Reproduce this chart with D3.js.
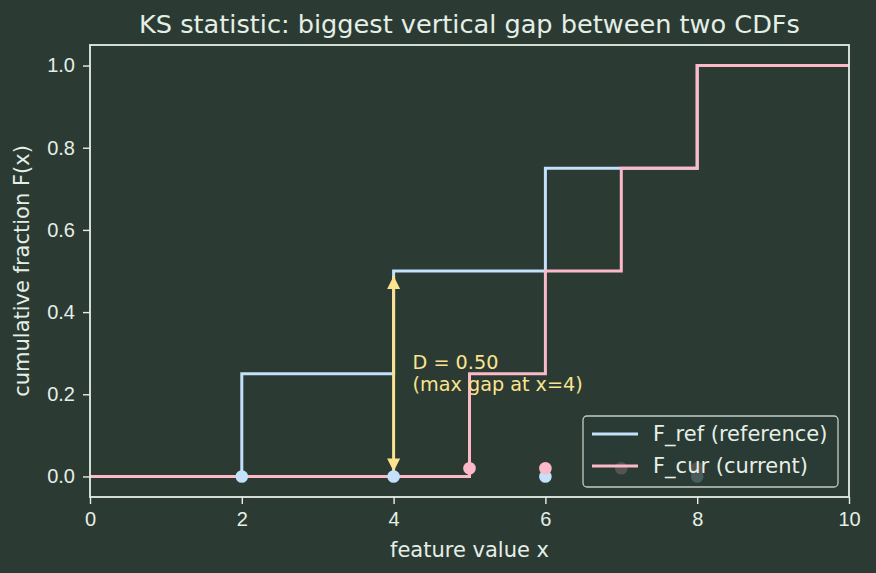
<!DOCTYPE html>
<html>
<head>
<meta charset="utf-8">
<script src="https://cdn.jsdelivr.net/npm/d3@7"></script>
<style>
  html, body { margin: 0; padding: 0; background: #2b3b34; }
  svg { display: block; font-family: "DejaVu Sans", sans-serif; }
</style>
</head>
<body>
<div id="chart"></div>
<script>
// sample values for the two distributions
const refSamples = [2, 4, 6, 8];
const curSamples = [5, 6, 7, 8];
// step points of each empirical CDF: [x, F(x)]
const refCdf = [[0, 0], [2, 0.25], [4, 0.5], [6, 0.75], [8, 1.0], [10, 1.0]];
const curCdf = [[0, 0], [5, 0.25], [6, 0.5], [7, 0.75], [8, 1.0], [10, 1.0]];
const xTicks = [0, 2, 4, 6, 8, 10];
const yTicks = [0, 0.2, 0.4, 0.6, 0.8, 1.0];
const gapX = 4, gapLow = 0, gapHigh = 0.5;
const gapLabel = ["D = 0.50", "(max gap at x=4)"];
const seriesNames = ["F_ref (reference)", "F_cur (current)"];

const W = 876, H = 573;
const bg = "#2b3b34", fg = "#e6efe6";
const blue = "#c4e1fb", pink = "#fbb9c9", gold = "#fbe38f";
const m = {left: 90, right: 27, top: 45, bottom: 76};

const svg = d3.select("#chart").append("svg")
  .attr("width", W).attr("height", H);

svg.append("rect").attr("width", W).attr("height", H).attr("fill", bg);

const x = d3.scaleLinear().domain([0, 10]).range([m.left, W - m.right]);
const y = d3.scaleLinear().domain([-0.05, 1.05]).range([H - m.bottom, m.top]);

// axes
const xAxis = svg.append("g")
  .attr("transform", `translate(0,${H - m.bottom})`)
  .call(d3.axisBottom(x).tickValues(xTicks).tickFormat(d3.format("d")).tickSize(7).tickPadding(8));
const yAxis = svg.append("g")
  .attr("transform", `translate(${m.left},0)`)
  .call(d3.axisLeft(y).tickValues(yTicks).tickFormat(d3.format(".1f")).tickSize(7).tickPadding(8));
[xAxis, yAxis].forEach(a => {
  a.select(".domain").remove();
  a.selectAll("line").attr("stroke", fg).attr("stroke-width", 1.4);
  a.selectAll("text").attr("fill", fg).style("font-size", "20px");
});

const line = d3.line()
  .x(d => x(d[0]))
  .y(d => y(d[1]))
  .curve(d3.curveStepAfter);

svg.append("path").datum(refCdf)
  .attr("d", line).attr("fill", "none").attr("stroke", blue).attr("stroke-width", 3);
svg.append("path").datum(curCdf)
  .attr("d", line).attr("fill", "none").attr("stroke", pink).attr("stroke-width", 3);

// double arrow for the max gap
const defs = svg.append("defs");
defs.append("marker").attr("id", "head")
  .attr("viewBox", "0 0 10 10").attr("refX", 10).attr("refY", 5)
  .attr("markerWidth", 14).attr("markerHeight", 13).attr("markerUnits", "userSpaceOnUse")
  .attr("orient", "auto-start-reverse")
  .append("path").attr("d", "M0,0 L10,5 L0,10 Z").attr("fill", gold);

svg.append("line")
  .attr("x1", x(gapX)).attr("x2", x(gapX))
  .attr("y1", y(gapLow) - 5).attr("y2", y(gapHigh) + 5)
  .attr("stroke", gold).attr("stroke-width", 3)
  .attr("marker-start", "url(#head)").attr("marker-end", "url(#head)");

svg.append("text")
  .attr("x", x(4.25)).attr("y", y(0.25))
  .attr("fill", gold).style("font-size", "19.2px")
  .selectAll("tspan").data(gapLabel).join("tspan")
    .attr("x", x(4.25))
    .attr("dy", (d, i) => i === 0 ? "-0.25em" : "1.15em")
    .text(d => d);

// sample points
svg.append("g").selectAll("circle").data(refSamples).join("circle")
  .attr("cx", d => x(d)).attr("cy", y(0)).attr("r", 6.3).attr("fill", blue);
svg.append("g").selectAll("circle").data(curSamples).join("circle")
  .attr("cx", d => x(d)).attr("cy", y(0.02)).attr("r", 6.3).attr("fill", pink);

// frame
svg.append("rect")
  .attr("x", m.left).attr("y", m.top)
  .attr("width", W - m.left - m.right).attr("height", H - m.top - m.bottom)
  .attr("fill", "none").attr("stroke", fg).attr("stroke-width", 1.8);

// legend
const lg = svg.append("g").attr("transform", "translate(583,416)");
lg.append("rect").attr("width", 255).attr("height", 71).attr("rx", 4)
  .attr("fill", bg).attr("fill-opacity", 0.8)
  .attr("stroke", "#c3ccc3").attr("stroke-width", 1.3);
const items = lg.selectAll("g.item").data(seriesNames).join("g")
  .attr("transform", (d, i) => `translate(0,${18 + i * 32})`);
items.append("line").attr("x1", 9).attr("x2", 55)
  .attr("stroke", (d, i) => i === 0 ? blue : pink).attr("stroke-width", 3);
items.append("text").attr("x", 70).attr("dy", "0.35em")
  .attr("fill", fg).style("font-size", "21px").text(d => d);

// titles
svg.append("text").attr("x", (m.left + W - m.right) / 2).attr("y", 33)
  .attr("text-anchor", "middle").attr("fill", fg).style("font-size", "25.6px")
  .text("KS statistic: biggest vertical gap between two CDFs");
svg.append("text").attr("x", (m.left + W - m.right) / 2).attr("y", 557)
  .attr("text-anchor", "middle").attr("fill", fg).style("font-size", "21px")
  .text("feature value x");
svg.append("text")
  .attr("transform", `translate(29,${(m.top + H - m.bottom) / 2}) rotate(-90)`)
  .attr("text-anchor", "middle").attr("fill", fg).style("font-size", "21px")
  .text("cumulative fraction F(x)");
</script>
</body>
</html>
